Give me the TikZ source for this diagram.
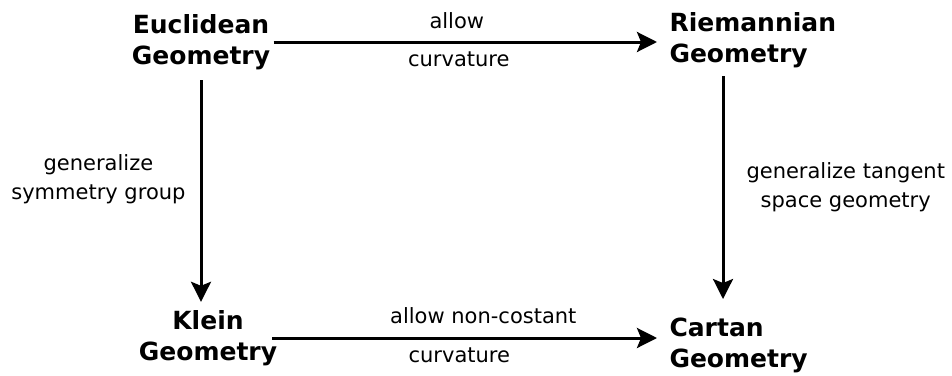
\documentclass[tikz,border=0pt]{standalone}
\usepackage{fontspec}
\setmainfont{DejaVu Sans}
\usetikzlibrary{arrows.meta}
\tikzset{
  geo/.style={font=\fontsize{12.5}{15.5}\selectfont\bfseries,inner sep=1pt},
  lbl/.style={font=\fontsize{10.5}{14.5}\selectfont,inner sep=0pt,align=center},
}

\begin{document}
\begin{tikzpicture}[x=0.5pt,y=-0.5pt,line width=1.5pt,>={Stealth[length=10pt,width=10pt,inset=2pt]}]
        \useasboundingbox (0,0) rectangle (952,375);
        \node[geo,align=center] (eu) at (201,42) {Euclidean\\Geometry};
        \node[geo,align=left,anchor=west] (ri) at (666,40) {Riemannian\\Geometry};
        \node[geo,align=center] (kl) at (208,338) {Klein\\Geometry};
        \node[geo,align=left,anchor=west] (ca) at (666,345) {Cartan\\Geometry};
        \draw[->,shorten >=4.5pt] (eu.east) -- (eu.east -| ri.west)
            node[lbl,midway,anchor=base,xshift=-6.5pt,yshift=7pt] {allow}
            node[lbl,midway,anchor=base,xshift=-5.5pt,yshift=-12pt] {curvature};
        \draw[->,shorten <=-4.25pt,shorten >=4.5pt] (kl.east) -- (kl.east -| ca.west)
            node[lbl,midway,anchor=base,xshift=5pt,yshift=7.5pt] {allow non-costant}
            node[lbl,midway,anchor=base,xshift=-7pt,yshift=-12pt] {curvature};
        \draw[->,shorten <=3.5pt,shorten >=2.5pt] (eu.south) -- (eu.south |- kl.north)
            node[lbl,midway,left=7pt,yshift=5.25pt] {generalize\\symmetry group};
        \draw[->,shorten <=2.5pt,shorten >=7.5pt] ([xshift=28.5pt]ri.south west) -- ([xshift=28.5pt]ca.north west)
            node[lbl,midway,right=11pt,yshift=2.75pt] {generalize tangent\\space geometry};
    \end{tikzpicture}
\end{document}
